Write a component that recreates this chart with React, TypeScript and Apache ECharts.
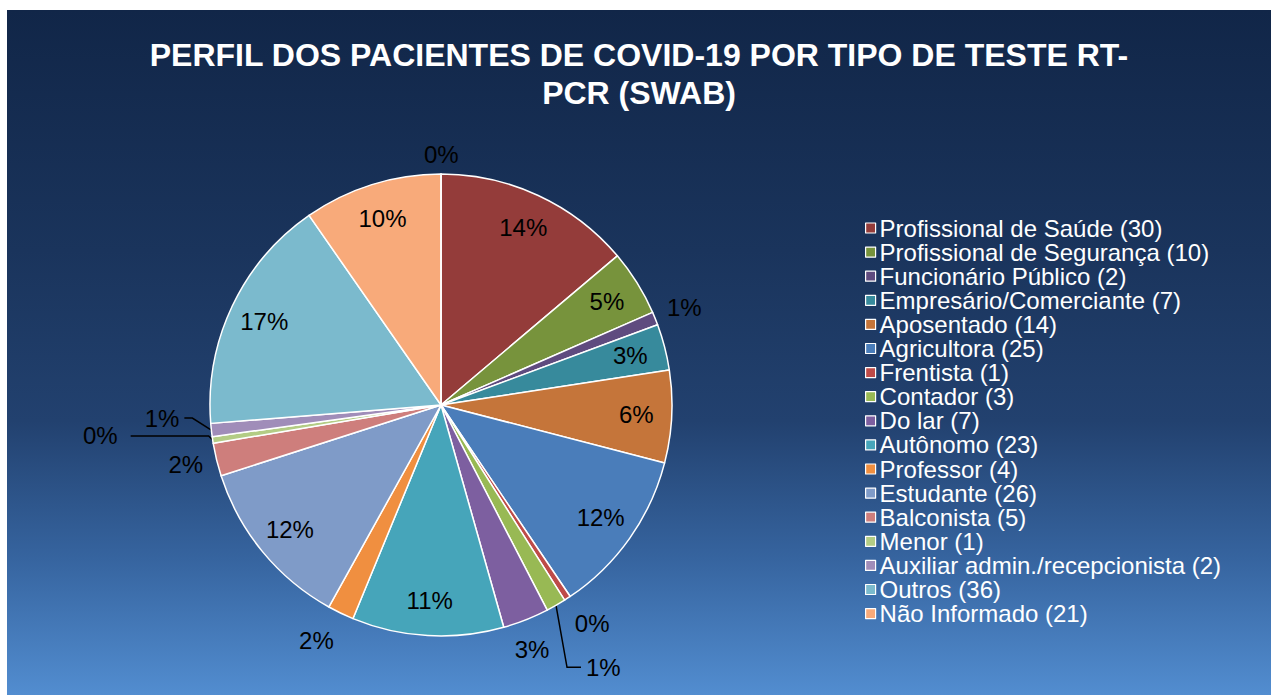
import React, { useEffect, useRef } from "react";
import * as echarts from "echarts";

const titleText = "PERFIL DOS PACIENTES DE COVID-19 POR TIPO DE TESTE RT-\nPCR (SWAB)";

const categories = [
  "Profissional de Saúde",
  "Profissional de Segurança",
  "Funcionário Público",
  "Empresário/Comerciante",
  "Aposentado",
  "Agricultora",
  "Frentista",
  "Contador",
  "Do lar",
  "Autônomo",
  "Professor",
  "Estudante",
  "Balconista",
  "Menor",
  "Auxiliar admin./recepcionista",
  "Outros",
  "Não Informado",
];
const counts = [30, 10, 2, 7, 14, 25, 1, 3, 7, 23, 4, 26, 5, 1, 2, 36, 21];

// an empty category at the end of the circle (shown only as the "0%" label at the top)
const emptyName = "(sem registro)";
const emptyCount = 0;

const colors = [
  "#943c3a", "#77933c", "#5f4b7f", "#378a9c", "#c5753a", "#4a7dba",
  "#be4b48", "#98b954", "#7d5fa0", "#46a5ba", "#f08f40", "#7f9bc8",
  "#ce7e7c", "#b3cc85", "#a08db9", "#7bbacd", "#f8aa7a", "#888888",
];

// label placement: "in" = inside the slice, otherwise outside
const placement = [
  "in", "in", "out", "in", "in", "in", "out", "out", "out", "in", "out", "in",
  "out", "out", "out", "in", "in", "out",
];
// leader-line settings for outside labels: [show, length, length2]
const leader: Record<number, [boolean, number, number]> = {
  2: [false, 30, -21],
  6: [false, 30, -14],
  7: [true, 70, 10],
  8: [false, 32, -28],
  10: [false, 30, -11],
  12: [false, 20, -11],
  13: [true, 4, 74],
  14: [true, 8, 12],
  17: [false, 20, -22],
};
// leader-line bends for the labels that Excel pulled aside: [dx2, dy2, len2, extra label dx]
const bends: Record<number, [number, number, number, number]> = {
  7: [11, 62, 14, 0],
  13: [-4, -4, -78, -8],
  14: [-19, -12, -8, 0],
};

export default function App() {
  const ref = useRef<HTMLDivElement>(null);
  useEffect(() => {
    if (!ref.current) return;
    const chart = echarts.init(ref.current, undefined, { renderer: "svg" });
    const names = [...categories, emptyName];
    const values = [...counts, emptyCount];
    const total = values.reduce((a, b) => a + b, 0);
    const fmt = (p: any) => Math.round((p.value / total) * 100) + "%";
    const font = "Arial, 'Liberation Sans', sans-serif";
    const R = 231;
    const center = [434, 395];

    const mainData = names.map((n, i) => {
      const l = leader[i] || [false, 10, 4];
      return {
        name: n,
        value: values[i],
        itemStyle: { color: colors[i] },
        label: { show: placement[i] === "out" },
        labelLine: { show: l[0], length: l[1], length2: l[2] },
      };
    });
    const overlayData = names.map((n, i) => ({
      name: n,
      value: values[i],
      label: { show: placement[i] === "in" },
    }));

    chart.setOption({
      animation: false,
      backgroundColor: new echarts.graphic.LinearGradient(0, 0, 0, 1, [
        { offset: 0, color: "#112648" },
        { offset: 0.35, color: "#1a345c" },
        { offset: 0.6, color: "#22416f" },
        { offset: 0.8, color: "#36649f" },
        { offset: 1, color: "#528dd0" },
      ]),
      title: {
        text: titleText,
        left: "center",
        top: 21,
        textStyle: {
          color: "#ffffff",
          fontSize: 32,
          fontWeight: "bold",
          fontFamily: font,
          lineHeight: 38,
        },
      },
      legend: {
        data: categories,
        orient: "vertical",
        left: 853,
        top: 201,
        itemWidth: 10,
        itemHeight: 10,
        itemGap: 0.1,
        icon: "rect",
        itemStyle: { borderColor: "#ffffff", borderWidth: 1.2 },
        formatter: (name: string) => {
          const i = categories.indexOf(name);
          return `${name} (${counts[i]})`;
        },
        textStyle: { color: "#ffffff", fontSize: 24, fontFamily: font, lineHeight: 24, padding: [0, 0, 0, -1] },
      },
      series: [
        {
          type: "pie",
          center,
          radius: R,
          startAngle: 90,
          clockwise: true,
          avoidLabelOverlap: false,
          stillShowZeroSum: true,
          minShowLabelAngle: -1,
          itemStyle: { borderColor: "#ffffff", borderWidth: 1.5 },
          label: {
            position: "outside",
            formatter: fmt,
            color: "#000000",
            fontSize: 24,
            fontFamily: font,
          },
          labelLine: { lineStyle: { color: "#000000", width: 1.5 }, smooth: false },
          labelLayout: (p: any) => {
            const b = bends[p.dataIndex];
            const pts = p.labelLinePoints;
            if (!b || !pts || pts.length < 3) return undefined;
            const p1 = pts[0];
            const p2 = [p1[0] + b[0], p1[1] + b[1]];
            const p3 = [p2[0] + b[2], p2[1]];
            return {
              dx: p3[0] - pts[2][0] + b[3],
              dy: p3[1] - pts[2][1],
              labelLinePoints: [p1, p2, p3],
            };
          },
          emphasis: { disabled: true },
          data: mainData,
        },
        {
          type: "pie",
          center,
          radius: [154, R],
          startAngle: 90,
          clockwise: true,
          silent: true,
          legendHoverLink: false,
          stillShowZeroSum: true,
          itemStyle: { color: "rgba(0,0,0,0)", borderWidth: 0 },
          label: {
            position: "inside",
            formatter: fmt,
            color: "#000000",
            fontSize: 24,
            fontFamily: font,
          },
          labelLine: { show: false },
          emphasis: { disabled: true },
          data: overlayData,
        },
      ],
    });
    return () => chart.dispose();
  }, []);
  return (
    <div
      ref={ref}
      style={{ position: "absolute", left: 7, top: 10, width: 1264, height: 685 }}
    />
  );
}
